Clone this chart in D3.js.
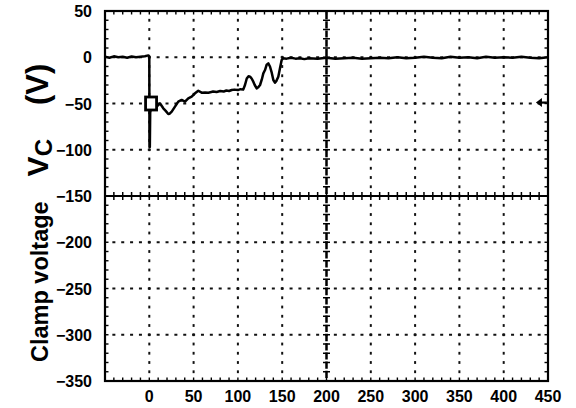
<!DOCTYPE html>
<html><head><meta charset="utf-8">
<script src="https://cdn.jsdelivr.net/npm/d3@7"></script>
<style>
html,body{margin:0;padding:0;background:#fff;}
svg{display:block;}
text{font-family:"Liberation Sans",Arial,sans-serif;font-weight:bold;fill:#000;}
</style></head><body>
<svg id="c" width="576" height="408"></svg>
<script>
// ---- data ----
const timeVals = [-50,-45,-40,-35,-30,-25,-20,-15,-10,-5,-1,0,0.2,0.6,1,3,6,8.3,12,15.8,18.5,21.4,23,25.3,29,32.7,36.5,40.3,44,47.8,51.6,55.3,59.1,63,66.6,70,72,76,80,84,87,90,93,96,100,103,106,108,110,112,113.7,115.5,117.4,119,121.2,123,125,127,128.7,130.6,132.5,134.3,136.2,138,140,141.8,143.5,145.6,147.5,149.4,151,155,160,165,170,175,180,190,200,210,220,230,240,250,260,270,280,290,300,310,320,330,340,350,360,370,380,390,400,410,420,430,440,450];
const clampV   = [0.5,-0.5,1,0,0.5,-0.5,0.8,0,0.5,1,2,1,-97,-97,-60,-50,-52,-53.4,-49.8,-55.2,-58,-61.4,-61,-58.8,-53.4,-48,-46.2,-48,-44.4,-42.6,-39,-36.2,-38.3,-38,-38.3,-37.5,-37,-37.5,-36.5,-37,-36,-36.5,-35.4,-35,-35.5,-34.5,-35,-30,-23,-20.5,-21,-23,-26.4,-30,-33.6,-32.5,-30,-24,-17.4,-13.8,-8,-6.6,-10,-16,-24.6,-27.5,-25.5,-21,-12,-3,-1.2,-1.5,-0.5,-1.5,-1,-2,-1,-1.5,-0.5,-1.5,-1,-0.5,-1.5,-1,-0.5,-1,0,-1,-0.5,0.5,-0.5,-1,0.5,-0.5,0,-1,0.5,-0.5,0,-0.5,0.5,-0.5,-1,0];
const xTicks = [0,50,100,150,200,250,300,350,400,450];
const yTicks = [50,0,-50,-100,-150,-200,-250,-300,-350];
const cursorMarker = [2,-50];
const levelMarker = [442,-49];
const yTitle = ["Clamp voltage","V","C","(V)"];

// ---- scales ----
const svg = d3.select("#c");
const x = d3.scaleLinear().domain([-50,450]).range([105,548]);
const y = d3.scaleLinear().domain([-350,50]).range([381,11]);
const [x0,x1] = x.range(), [y0,y1] = [y(50), y(-350)];

const minorX = d3.range(-50,450.1,10);
const minorY = d3.range(-350,50.1,10);
const majorX = d3.range(0,400.1,50).filter(v=>v!==200);
const majorY = d3.range(-300,0.1,50).filter(v=>v!==-150);

const g = svg.append("g");
// dotted grid
majorX.forEach(v=>{
  g.selectAll(null).data(minorY.slice(1,-1)).enter().append("rect")
   .attr("x",x(v)-1).attr("y",d=>y(d)-1.4).attr("width",2).attr("height",2.8).attr("fill","#111");
});
majorY.forEach(v=>{
  g.selectAll(null).data(minorX.slice(1,-1)).enter().append("rect")
   .attr("x",d=>x(d)-1.5).attr("y",y(v)-1).attr("width",3).attr("height",2).attr("fill","#111");
});
// center crosshair
g.append("line").attr("x1",x0).attr("x2",x1).attr("y1",y(-150)).attr("y2",y(-150)).attr("stroke","#000").attr("stroke-width",2.2);
g.selectAll(null).data(minorX).enter().append("line")
 .attr("x1",d=>x(d)).attr("x2",d=>x(d)).attr("y1",y(-150)-4).attr("y2",y(-150)+4).attr("stroke","#000").attr("stroke-width",1.5);
g.append("line").attr("x1",x(200)).attr("x2",x(200)).attr("y1",y0).attr("y2",y1).attr("stroke","#000").attr("stroke-width",2.5)
 .attr("stroke-dasharray","7.2,2").attr("stroke-dashoffset",-1);
g.selectAll(null).data(minorY).enter().append("line")
 .attr("x1",x(200)-3.5).attr("x2",x(200)+3.5).attr("y1",d=>y(d)).attr("y2",d=>y(d)).attr("stroke","#000").attr("stroke-width",1.5);
// frame ticks
g.selectAll(null).data(minorX).enter().append("line")
 .attr("x1",d=>x(d)).attr("x2",d=>x(d)).attr("y1",y0).attr("y2",y0+3.5).attr("stroke","#000").attr("stroke-width",1.4);
g.selectAll(null).data(minorX).enter().append("line")
 .attr("x1",d=>x(d)).attr("x2",d=>x(d)).attr("y1",y1).attr("y2",y1-3.5).attr("stroke","#000").attr("stroke-width",1.4);
g.selectAll(null).data(minorY).enter().append("line")
 .attr("x1",x0).attr("x2",x0+3.5).attr("y1",d=>y(d)).attr("y2",d=>y(d)).attr("stroke","#000").attr("stroke-width",1.4);
g.selectAll(null).data(minorY).enter().append("line")
 .attr("x1",x1).attr("x2",x1-3.5).attr("y1",d=>y(d)).attr("y2",d=>y(d)).attr("stroke","#000").attr("stroke-width",1.4);
// frame
g.append("rect").attr("x",x0).attr("y",y0).attr("width",x1-x0).attr("height",y1-y0)
 .attr("fill","none").attr("stroke","#000").attr("stroke-width",2.2);

// trace
const pts = timeVals.map((t,i)=>[t,clampV[i]]);
g.append("path").datum(pts)
 .attr("d",d3.line().x(d=>x(d[0])).y(d=>y(d[1])))
 .attr("fill","none").attr("stroke","#000").attr("stroke-width",2.5).attr("stroke-linejoin","round");

// markers
g.append("rect").attr("x",x(cursorMarker[0])-5.5).attr("y",y(cursorMarker[1])-6.5).attr("width",11).attr("height",13)
 .attr("fill","#fff").attr("stroke","#000").attr("stroke-width",2.8);
const lx = x(levelMarker[0]), ly = y(levelMarker[1]);
g.append("path").attr("d",`M${lx-5},${ly} L${lx+1},${ly-4.5} L${lx+1},${ly+4.5} Z`).attr("fill","#000");
g.append("line").attr("x1",lx).attr("x2",lx+6).attr("y1",ly).attr("y2",ly).attr("stroke","#000").attr("stroke-width",2.2);

// tick labels
const fmt = v => v<0 ? "\u2212"+Math.abs(v) : String(v);
svg.selectAll(null).data(xTicks).enter().append("text")
 .attr("x",d=>x(d)).attr("y",402).attr("text-anchor","middle").attr("font-size",16).text(fmt);
svg.selectAll(null).data(yTicks).enter().append("text")
 .attr("x",92).attr("y",d=>y(d)+6).attr("text-anchor","end").attr("font-size",16).text(fmt);

// y title
const t = svg.append("text").attr("transform","translate(48,362) rotate(-90)").attr("font-size",23.5);
t.append("tspan").text(yTitle[0]);
t.append("tspan").attr("dx",25).attr("font-size",30).text(yTitle[1]);
t.append("tspan").attr("dy",4).attr("font-size",24).text(yTitle[2]);
t.append("tspan").attr("dx",34).attr("dy",-4).attr("font-size",31).text(yTitle[3]);
</script>
</body></html>
